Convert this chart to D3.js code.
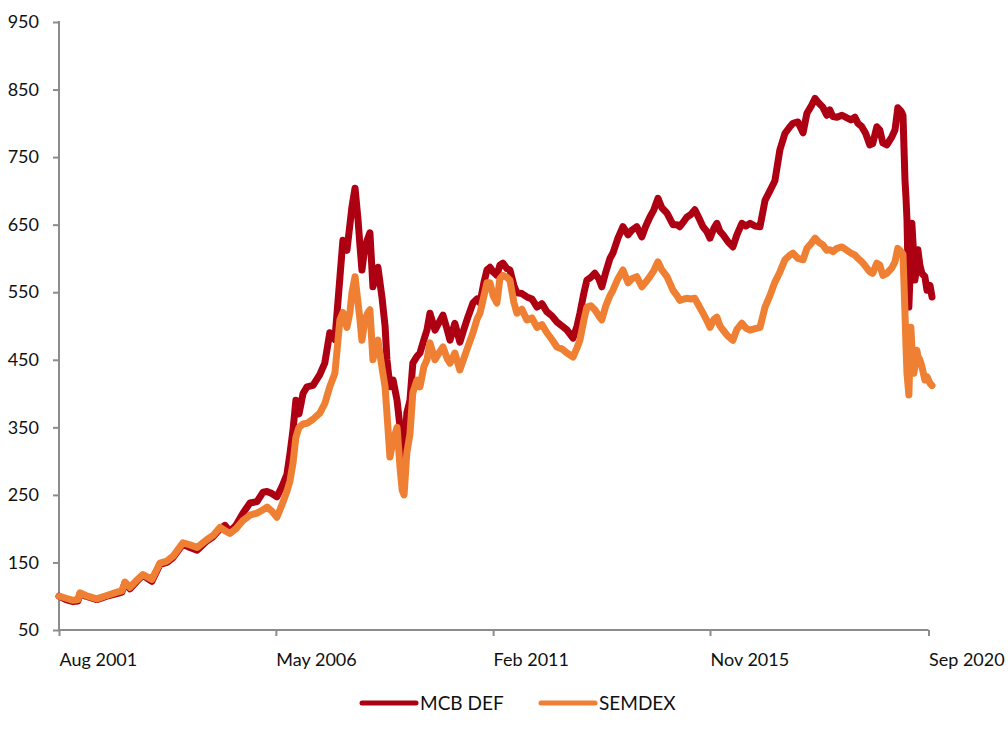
<!DOCTYPE html>
<html>
<head>
<meta charset="UTF-8">
<title>MCB DEF vs SEMDEX</title>
<script src="https://d3js.org/d3.v7.min.js"></script>
<style>
  body { margin: 0; background: #fff; }
  svg text { font-family: Lato, "Open Sans", sans-serif; fill: #111; }
</style>
</head>
<body>
<div id="chart"></div>
<script>
// rebased index, both series start at 100
var dates = [
  "2001-08-01","2001-09-26","2001-11-21","2001-12-30","2002-01-16","2002-03-04","2002-05-30","2002-08-19","2002-11-08","2002-12-17",
  "2003-01-11","2003-02-19","2003-04-15","2003-06-03","2003-08-14","2003-10-17","2003-12-12","2004-01-29","2004-04-18","2004-06-13",
  "2004-08-09","2004-10-28","2004-12-15","2005-02-09","2005-03-19","2005-04-28","2005-06-16","2005-08-11","2005-10-06","2005-12-01",
  "2006-01-19","2006-02-19","2006-03-30","2006-05-09","2006-06-18","2006-07-28","2006-08-21","2006-09-15","2006-10-08","2006-11-02",
  "2006-12-04","2007-01-05","2007-02-22","2007-04-17","2007-05-27","2007-07-06","2007-08-16","2007-09-25","2007-10-19","2007-11-20",
  "2007-12-14","2007-12-30","2008-01-24","2008-02-17","2008-03-03","2008-03-19","2008-04-12","2008-05-06","2008-05-22","2008-06-15",
  "2008-07-09","2008-07-25","2008-08-26","2008-09-20","2008-10-05","2008-10-29","2008-11-23","2008-12-25","2009-01-18","2009-02-04",
  "2009-02-19","2009-03-13","2009-04-07","2009-04-30","2009-06-02","2009-06-26","2009-07-28","2009-08-21","2009-09-14","2009-10-24",
  "2009-11-25","2009-12-27","2010-01-29","2010-02-21","2010-04-01","2010-05-11","2010-06-12","2010-07-14","2010-08-24","2010-09-25",
  "2010-10-19","2010-11-20","2010-12-14","2011-01-07","2011-02-01","2011-03-03","2011-03-27","2011-04-20","2011-05-22","2011-06-15",
  "2011-07-17","2011-08-10","2011-09-19","2011-10-29","2011-12-08","2012-01-18","2012-02-26","2012-04-06","2012-05-16","2012-06-25",
  "2012-08-05","2012-09-14","2012-11-01","2012-12-03","2012-12-26","2013-01-28","2013-02-20","2013-03-23","2013-04-24","2013-05-26",
  "2013-06-19","2013-07-21","2013-08-23","2013-09-16","2013-10-26","2013-12-05","2014-01-15","2014-02-15","2014-03-26","2014-05-05",
  "2014-06-06","2014-07-08","2014-08-09","2014-09-11","2014-10-12","2014-11-22","2015-01-09","2015-02-10","2015-03-04","2015-04-06",
  "2015-04-29","2015-06-01","2015-07-03","2015-08-04","2015-09-06","2015-10-07","2015-11-01","2015-12-03","2015-12-26","2016-01-20",
  "2016-02-13","2016-03-23","2016-05-02","2016-06-03","2016-07-13","2016-08-14","2016-09-16","2016-10-26","2016-12-05","2017-01-14",
  "2017-02-22","2017-04-03","2017-05-13","2017-06-22","2017-08-01","2017-08-25","2017-10-04","2017-11-14","2017-12-15","2018-01-17",
  "2018-02-18","2018-03-20","2018-04-21","2018-05-23","2018-06-16","2018-07-10","2018-08-12","2018-09-21","2018-10-31","2018-12-02",
  "2019-01-03","2019-01-27","2019-02-27","2019-03-30","2019-05-02","2019-05-25","2019-06-27","2019-07-21","2019-08-14","2019-09-15",
  "2019-10-25","2019-11-19","2019-12-12","2020-01-06","2020-01-22","2020-02-07","2020-02-15","2020-02-23","2020-03-09","2020-03-25",
  "2020-04-02","2020-04-18","2020-04-26","2020-05-12","2020-05-20","2020-06-05","2020-06-21","2020-07-15","2020-08-01","2020-08-25",
  "2020-09-10"
];

var mcbDef = [
  100, 95, 92, 93, 104, 100, 95, 100, 104, 106,
  120, 111, 122, 131, 122, 147, 150, 157, 177, 172,
  168, 182, 188, 200, 205, 196, 205, 223, 238, 240,
  254, 255, 252, 247, 262, 280, 310, 346, 390, 370,
  400, 410, 412, 428, 445, 490, 480, 572, 627, 612,
  650, 676, 704, 657, 620, 583, 617, 630, 638, 558,
  575, 587, 543, 500, 450, 410, 420, 390, 350, 321,
  300, 371, 390, 445, 455, 460, 480, 494, 519, 494,
  505, 516, 495, 479, 504, 476, 495, 513, 534, 540,
  534, 565, 583, 587, 580, 575, 590, 593, 585, 583,
  560, 549, 548, 543, 540, 528, 533, 521, 515, 506,
  500, 494, 482, 500, 519, 550, 568, 572, 578, 570,
  558, 580, 600, 608, 630, 647, 635, 642, 647, 632,
  648, 661, 672, 689, 675, 667, 650, 650, 647, 655,
  661, 665, 672, 660, 647, 640, 630, 645, 652, 640,
  635, 625, 617, 635, 652, 648, 652, 648, 647, 686,
  700, 715, 761, 785, 795, 800, 802, 786, 815, 825,
  837, 830, 824, 812, 820, 810, 809, 812, 808, 805,
  809, 800, 795, 785, 768, 770, 795, 790, 771, 768,
  780, 790, 823, 818, 812, 716, 690, 657, 528, 610,
  652, 600, 568, 590, 613, 590, 578, 573, 553, 560,
  543
];

var semdex = [
  100, 97, 94, 95, 105, 101, 96, 101, 106, 108,
  121, 113, 124, 132, 125, 149, 152, 159, 179, 176,
  172, 184, 190, 202, 197, 193, 200, 212, 220, 223,
  228, 232, 226, 217, 235, 255, 270, 297, 335, 350,
  355, 356, 362, 371, 385, 410, 430, 509, 520, 498,
  520, 549, 573, 534, 510, 479, 509, 520, 524, 450,
  470, 479, 439, 410, 371, 306, 330, 350, 290, 257,
  250, 312, 340, 401, 420, 410, 440, 450, 475, 450,
  460, 469, 452, 445, 460, 435, 452, 469, 490, 510,
  519, 545, 564, 564, 545, 534, 570, 575, 572, 568,
  535, 519, 525, 509, 512, 498, 502, 490, 480, 469,
  466, 460, 454, 468, 479, 510, 528, 530, 524, 515,
  509, 530, 545, 553, 570, 583, 564, 570, 573, 558,
  565, 573, 582, 595, 583, 573, 553, 545, 538, 540,
  541, 540, 541, 530, 519, 508, 498, 510, 513, 500,
  494, 485, 479, 495, 504, 497, 494, 496, 498, 528,
  545, 565, 580, 598, 605, 608, 600, 598, 615, 622,
  630, 624, 620, 612, 613, 610, 615, 617, 612, 608,
  605, 600, 595, 588, 580, 578, 593, 590, 575, 578,
  586, 595, 615, 610, 606, 519, 470, 430, 398, 498,
  470, 430, 440, 464, 455, 450, 440, 420, 425, 415,
  412
];

var yTicks = [50, 150, 250, 350, 450, 550, 650, 750, 850, 950];
var xTickDates = ["2001-08-01", "2006-05-01", "2011-02-01", "2015-11-01", "2020-08-13"];
var xTickLabels = ["Aug 2001", "May 2006", "Feb 2011", "Nov 2015", "Sep 2020"];

var seriesNames = ["MCB DEF", "SEMDEX"];
var seriesColors = ["#AE0013", "#EE7F33"];

(function(d3) {
  var width = 1008, height = 740;
  var left = 59, right = 932, top = 22, bottom = 630;

  var parse = d3.timeParse("%Y-%m-%d");
  var dateObjs = dates.map(parse);
  var tickObjs = xTickDates.map(parse);

  var x = d3.scaleTime()
    .domain([parse("2001-08-01"), parse("2020-09-10")])
    .range([left, right]);
  var y = d3.scaleLinear()
    .domain([50, 950])
    .range([bottom, top]);

  var svg = d3.select("#chart").append("svg")
    .attr("width", width)
    .attr("height", height);

  var axisColor = "#8c8c8c";

  // y axis
  var yAxis = svg.append("g")
    .attr("transform", "translate(" + left + ",0)")
    .call(d3.axisLeft(y).tickValues(yTicks).tickSize(6).tickPadding(14).tickFormat(d3.format("d")));
  yAxis.select(".domain").attr("stroke", axisColor).attr("stroke-width", 2).attr("d", "M0," + (top - 1) + "V" + bottom);
  yAxis.selectAll(".tick line").attr("stroke", axisColor).attr("stroke-width", 2);
  yAxis.selectAll(".tick text").attr("font-size", 18).attr("fill", "#111").attr("font-family", "Lato, sans-serif");

  // x axis, ends at the last labelled tick
  var xAxis = svg.append("g")
    .attr("transform", "translate(0," + bottom + ")")
    .call(d3.axisBottom(x).tickValues(tickObjs).tickSize(6)
      .tickFormat(function(d, i) { return xTickLabels[i]; }));
  xAxis.select(".domain").attr("stroke", axisColor).attr("stroke-width", 2)
    .attr("d", "M" + (left - 1) + ",0H" + x(tickObjs[tickObjs.length - 1]));
  xAxis.selectAll(".tick line").attr("stroke", axisColor).attr("stroke-width", 2);
  xAxis.selectAll(".tick text")
    .attr("font-size", 18)
    .attr("fill", "#111")
    .attr("font-family", "Lato, sans-serif")
    .attr("text-anchor", "start")
    .attr("dy", null)
    .attr("y", 36);

  var line = d3.line()
    .x(function(d) { return x(d.date); })
    .y(function(d) { return y(d.value); });

  var seriesData = [mcbDef, semdex].map(function(vals) {
    return vals.map(function(v, i) { return { date: dateObjs[i], value: v }; });
  });

  svg.append("g").selectAll("path")
    .data(seriesData)
    .enter()
    .append("path")
    .attr("d", line)
    .attr("fill", "none")
    .attr("stroke", function(d, i) { return seriesColors[i]; })
    .attr("stroke-width", 7)
    .attr("stroke-linejoin", "round")
    .attr("stroke-linecap", "round");

  // legend
  var legendX = [362, 541];
  var legendY = 703;
  var legend = svg.selectAll(".legend")
    .data(seriesNames)
    .enter()
    .append("g")
    .attr("class", "legend")
    .attr("transform", function(d, i) { return "translate(" + legendX[i] + "," + legendY + ")"; });

  legend.append("line")
    .attr("x1", 0).attr("x2", 54)
    .attr("y1", 0).attr("y2", 0)
    .attr("stroke", function(d, i) { return seriesColors[i]; })
    .attr("stroke-width", 5)
    .attr("stroke-linecap", "round");

  legend.append("text")
    .attr("x", 58)
    .attr("y", 7)
    .attr("font-size", 19)
    .text(function(d) { return d; });

})(window.d3);
</script>
</body>
</html>
